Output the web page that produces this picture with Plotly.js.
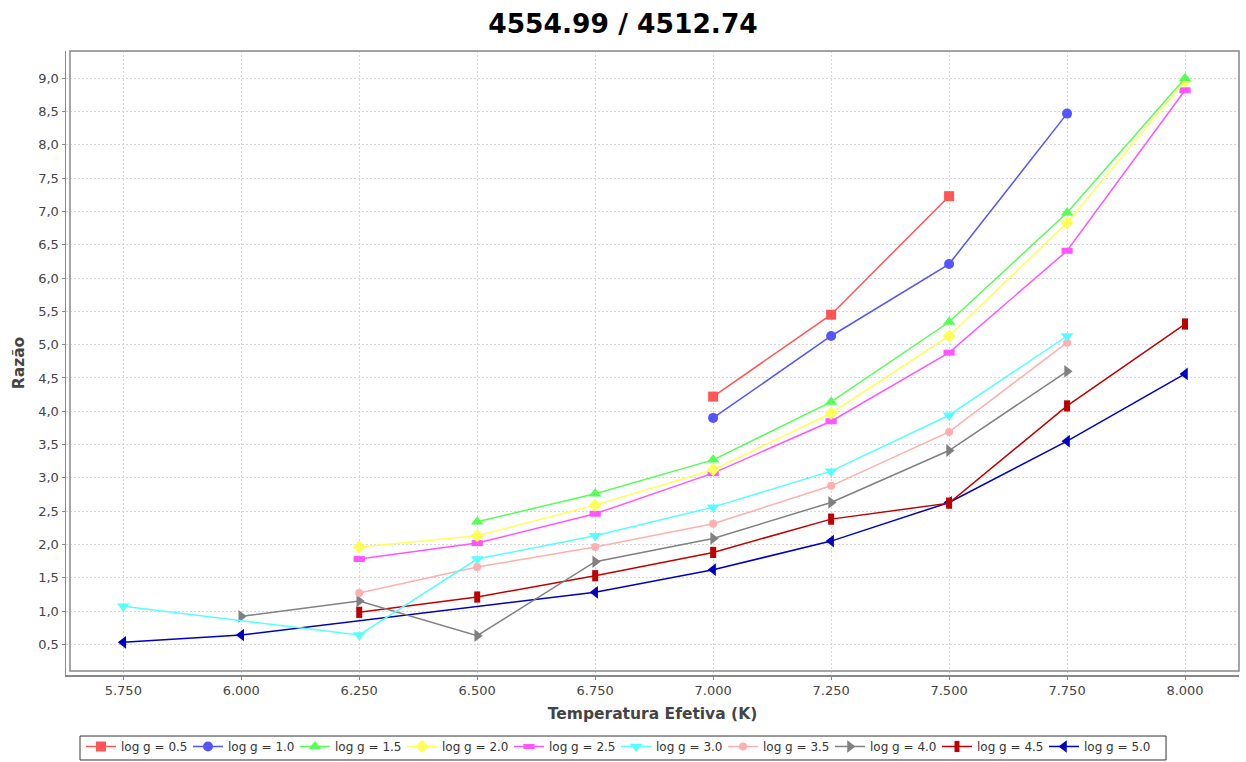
<!DOCTYPE html>
<html>
<head>
<meta charset="utf-8">
<script src="https://cdn.plot.ly/plotly-3.0.1.min.js"></script>
<style>
  html, body { margin: 0; padding: 0; background: #ffffff; }
  #chart { width: 1246px; height: 762px; }
</style>
</head>
<body>
<div id="chart"></div>
<script>
// Effective temperature grid (K)
const temps = [5750, 6000, 6250, 6500, 6750, 7000, 7250, 7500, 7750, 8000];

// Line ratio for each surface gravity (null = no model at that temperature)
const logg05 = [null, null, null, null, null, 4.22, 5.45, 7.23, null, null];
const logg10 = [null, null, null, null, null, 3.90, 5.13, 6.21, 8.47, null];
const logg15 = [null, null, null, 2.34, 2.76, 3.27, 4.14, 5.34, 6.98, 9.00];
const logg20 = [null, null, 1.96, 2.13, 2.59, 3.12, 3.97, 5.13, 6.83, 8.96];
const logg25 = [null, null, 1.78, 2.02, 2.46, 3.07, 3.85, 4.88, 6.41, 8.82];
const logg30 = [1.07, null, 0.64, 1.78, 2.13, 2.56, 3.10, 3.94, 5.13, null];
const logg35 = [null, null, 1.27, 1.66, 1.96, 2.31, 2.88, 3.69, 5.03, null];
const logg40 = [null, 0.92, 1.15, 0.63, 1.74, 2.09, 2.63, 3.41, 4.60, null];
const logg45 = [null, null, 0.98, 1.21, 1.53, 1.88, 2.38, 2.62, 4.08, 5.31];
const logg50 = [0.53, 0.64, null, null, 1.28, 1.62, 2.05, 2.63, 3.55, 4.56];

const seriesNames = ['log g = 0.5', 'log g = 1.0', 'log g = 1.5', 'log g = 2.0', 'log g = 2.5',
                     'log g = 3.0', 'log g = 3.5', 'log g = 4.0', 'log g = 4.5', 'log g = 5.0'];
const seriesValues = [logg05, logg10, logg15, logg20, logg25, logg30, logg35, logg40, logg45, logg50];

// Per-series styling
const colors = ['#ff5555', '#5555ff', '#55ff55', '#ffff55', '#ff55ff',
                '#55ffff', '#ffafaf', '#808080', '#c00000', '#0000c0'];
const symbols = ['square', 'circle', 'triangle-up', 'diamond', 'line-ew',
                 'triangle-down', 'circle', 'triangle-right', 'line-ns', 'triangle-left'];
const sizes = [10, 10, 11, 10, 8, 11, 8, 11, 8, 11];

const traces = [];
// First series is painted last so it sits on top
for (let i = seriesValues.length - 1; i >= 0; i--) {
  const isBar = symbols[i] === 'line-ew' || symbols[i] === 'line-ns';
  traces.push({
    type: 'scatter',
    mode: 'lines+markers',
    name: seriesNames[i],
    x: temps,
    y: seriesValues[i],
    connectgaps: true,
    line: { color: colors[i], width: 1.5 },
    marker: {
      symbol: symbols[i],
      size: sizes[i],
      color: colors[i],
      line: isBar ? { color: colors[i], width: 6 } : { width: 0 }
    },
    hoverinfo: 'x+y+name'
  });
}

const gridColor = '#d6d6d6';
const tickFont = { family: 'DejaVu Sans, Verdana, sans-serif', size: 13, color: '#444444' };
const titleFont = { family: 'DejaVu Sans, Verdana, sans-serif', size: 15.5, color: '#444444', weight: 'bold' };

const layout = {
  width: 1246,
  height: 762,
  margin: { l: 66, r: 7, t: 51, b: 87, pad: 0, autoexpand: false },
  paper_bgcolor: '#ffffff',
  plot_bgcolor: '#ffffff',
  separators: ',.',
  showlegend: true,
  title: {
    text: '<b>4554.99 / 4512.74</b>',
    x: 0.5, xref: 'container', xanchor: 'center',
    y: 0.969, yref: 'container', yanchor: 'middle',
    font: { family: 'DejaVu Sans, sans-serif', size: 26.5, color: '#000000' }
  },
  xaxis: {
    range: [5628.6, 8114.4],
    tickvals: temps,
    tickformat: ',d',
    tickfont: tickFont,
    ticks: 'outside', ticklen: 3, tickcolor: '#888888',
    showline: true, linecolor: '#888888', linewidth: 1.5,
    showgrid: true, gridcolor: gridColor, gridwidth: 1, griddash: '2px,2px',
    zeroline: false,
    automargin: false,
    title: { text: 'Temperatura Efetiva (K)', font: titleFont, standoff: 11 }
  },
  yaxis: {
    range: [0.039, 9.41],
    dtick: 0.5, tick0: 0,
    tickformat: '.1f',
    tickfont: tickFont,
    ticks: 'outside', ticklen: 3, tickcolor: '#888888',
    showline: true, linecolor: '#888888', linewidth: 1.5,
    showgrid: true, gridcolor: gridColor, gridwidth: 1, griddash: '2px,2px',
    zeroline: false,
    automargin: false,
    title: { text: 'Razão', font: titleFont, standoff: 10 }
  },
  legend: {
    orientation: 'h',
    traceorder: 'reversed',
    xref: 'container', yref: 'container',
    x: 0.065, xanchor: 'left',
    y: 0.0394, yanchor: 'top',
    bgcolor: 'rgba(0,0,0,0)',
    borderwidth: 0,
    font: { family: 'DejaVu Sans, Verdana, sans-serif', size: 12, color: '#333333' },
    itemwidth: 30,
    entrywidth: 62
  },
  shapes: [
    // plot outline, set slightly in from the axis lines
    { type: 'rect', xref: 'paper', yref: 'paper', x0: 0.0034, x1: 1, y0: 0.0064, y1: 1,
      line: { color: '#888888', width: 1.5 }, fillcolor: 'rgba(0,0,0,0)', layer: 'above' },
    // frame around the legend row
    { type: 'rect', xref: 'paper', yref: 'paper', x0: 0.01194, x1: 0.9378, y0: -0.1362, y1: -0.0978,
      line: { color: '#333333', width: 1 }, fillcolor: 'rgba(0,0,0,0)', layer: 'above' }
  ]
};

Plotly.newPlot('chart', traces, layout, { displayModeBar: false, staticPlot: true });
</script>
</body>
</html>
